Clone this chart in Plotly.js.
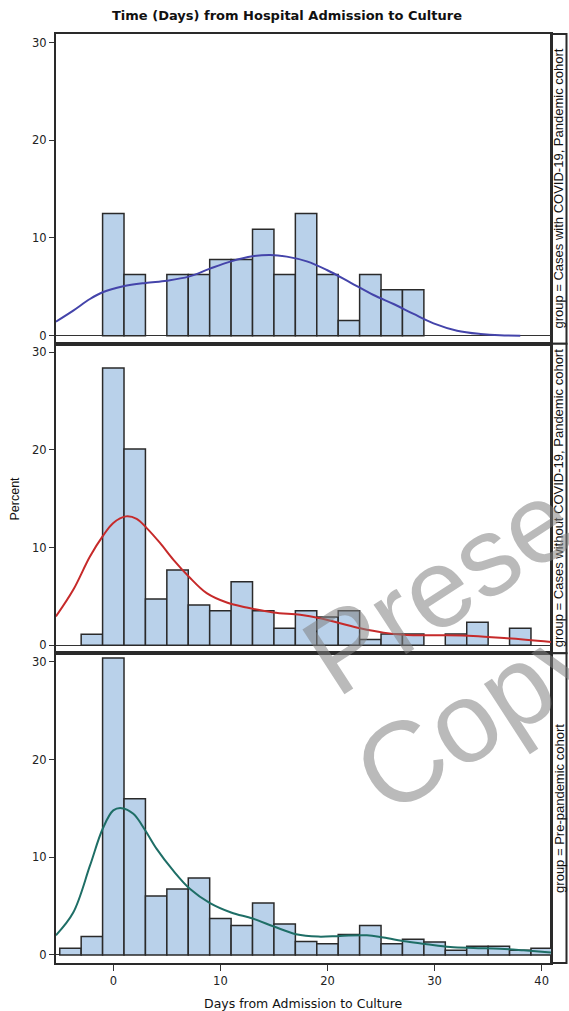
<!DOCTYPE html>
<html>
<head>
<meta charset="utf-8">
<script src="https://cdn.plot.ly/plotly-3.0.1.min.js"></script>
<style>html,body{margin:0;padding:0;background:#fff;}#chart{width:569px;height:1011px;}</style>
</head>
<body>
<div id="chart"></div>
<script>
// Bin centres (days), bin width 2 days
const binDays = [-4,-2,0,2,4,6,8,10,12,14,16,18,20,22,24,26,28,30,32,34,36,38,40];

// Percent per bin (null = empty bin)
const pctCovid    = [null,null,12.5,6.25,null,6.25,6.25,7.8,7.8,10.9,6.25,12.5,6.25,1.56,6.25,4.7,4.7,null,null,null,null,null,null];
const pctNonCovid = [null,1.13,28.4,20.1,4.73,7.7,4.14,3.55,6.5,3.55,1.76,3.55,2.9,3.55,0.6,1.15,1.15,null,1.15,2.35,null,1.76,null];
const pctPre      = [0.68,1.88,30.4,16.0,6.03,6.75,7.88,3.73,3.01,5.31,3.18,1.37,1.16,2.09,3.01,1.16,1.61,1.34,0.48,0.89,0.89,0.48,0.68];

// Kernel density curves
const kdeCovidX = [-5.36,-3.74,-2.18,-1.0,0.93,3.0,5.0,7.04,9.03,11.0,13.0,14.64,16.2,18.07,19.94,22.1,24.3,26.17,28.04,29.9,32.1,34.3,36.1,38.0];
const kdeCovidY = [1.43,2.56,3.75,4.44,5.05,5.4,5.63,6.04,6.86,7.6,8.12,8.26,8.09,7.6,6.72,5.46,4.16,3.24,2.22,1.26,0.51,0.17,0.03,0.0];

const kdeNonX = [-5.36,-3.74,-2.18,-1.0,0.0,1.18,2.18,3.12,4.36,5.6,7.04,8.72,10.6,12.46,14.95,17.45,19.3,21.18,23.05,25.23,27.4,30.5,33.6,36.76,40.9];
const kdeNonY = [2.95,5.68,9.1,11.16,12.53,13.2,12.95,12.0,10.48,8.77,7.05,5.34,4.38,3.87,3.36,3.12,2.77,2.26,1.75,1.3,1.06,1.03,0.96,0.72,0.34];

const kdePreX = [-5.36,-3.74,-2.18,-1.0,0.0,0.78,1.87,2.99,4.05,5.6,7.17,9.03,11.0,13.0,15.0,17.07,19.13,21.18,23.68,25.23,27.4,29.28,31.46,33.64,36.1,38.3,40.9];
const kdePreY = [2.02,4.35,9.14,12.9,14.8,15.03,14.45,12.74,10.86,8.63,6.75,5.31,4.35,3.73,2.91,2.12,1.88,1.95,2.02,1.78,1.37,1.1,0.82,0.72,0.65,0.48,0.24];

const groupLabels = [
  "group = Cases with COVID-19, Pandemic cohort",
  "group = Cases without COVID-19, Pandemic cohort",
  "group = Pre-pandemic cohort"
];
const xTicks = [0,10,20,30,40];
const yTicks = [0,10,20,30];

const barFill = "#B9D1EA";
const barLine = "#2a2a2a";
const curveColors = ["#4444AA","#C62A2A","#1E6E66"];
const FONT = "Liberation Sans, Arial, sans-serif";
const WIDE = "DejaVu Sans, sans-serif";

function bars(y, xa, ya){
  return {type:"bar", x:binDays, y:y, width:2, xaxis:xa, yaxis:ya,
    marker:{color:barFill, line:{color:barLine, width:1.5}}, hoverinfo:"x+y", showlegend:false};
}
function curve(x, y, c, xa, ya){
  return {type:"scatter", mode:"lines", x:x, y:y, xaxis:xa, yaxis:ya,
    line:{color:c, width:2, shape:"spline", smoothing:1}, showlegend:false};
}

const data = [
  bars(pctCovid,"x3","y"), curve(kdeCovidX,kdeCovidY,curveColors[0],"x3","y"),
  bars(pctNonCovid,"x2","y2"), curve(kdeNonX,kdeNonY,curveColors[1],"x2","y2"),
  bars(pctPre,"x","y3"), curve(kdePreX,kdePreY,curveColors[2],"x","y3")
];

const xr = [-5.35, 40.87];
const yr = [-0.82, 30.88];
const axLine = {showline:true, linecolor:"#2a2a2a", linewidth:2, mirror:true, showgrid:false};
function yax(dom, anchor){
  return Object.assign({domain:dom, anchor:anchor, range:yr, tickvals:yTicks, ticks:"outside",
    ticklen:5, tickwidth:1, tickcolor:"#333", zeroline:true, zerolinecolor:"#333", zerolinewidth:1,
    tickfont:{family:WIDE, size:11.5, color:"#222"}, fixedrange:true}, axLine);
}
function xax(anchor, labels){
  return Object.assign({anchor:anchor, range:xr, tickvals:xTicks, ticks:labels?"outside":"",
    ticklen:6, tickwidth:1, tickcolor:"#333", showticklabels:labels, zeroline:false,
    tickfont:{family:WIDE, size:11.5, color:"#222"}, fixedrange:true}, axLine);
}

const doms = [[2/3,1],[1/3,2/3],[0,1/3]];
const shapes = [];
const annotations = [];
const stripX1 = 1.0313;
doms.forEach((d,i)=>{
  shapes.push({type:"rect", xref:"paper", yref:"paper", x0:1, x1:stripX1, y0:d[0], y1:d[1],
    line:{color:"#2a2a2a", width:2}, fillcolor:"#fff", layer:"below"});
  annotations.push({xref:"paper", yref:"paper", x:(1+stripX1)/2, y:(d[0]+d[1])/2, text:groupLabels[i],
    textangle:-90, showarrow:false, xanchor:"center", yanchor:"middle",
    font:{family:FONT, size:13, color:"#111"}});
});
annotations.push({xref:"paper", yref:"paper", x:-0.0848, y:0.5, text:"Percent", textangle:-90,
  showarrow:false, xanchor:"center", yanchor:"middle", font:{family:FONT, size:12.5, color:"#111"}});
annotations.push({xref:"paper", yref:"paper", x:0.5, y:-0.0441, text:"Days from Admission to Culture",
  showarrow:false, xanchor:"center", yanchor:"middle", font:{family:WIDE, size:12.5, color:"#111"}});
// watermark
const wmColor = "rgba(130,130,130,0.55)";
annotations.push({xref:"paper", yref:"paper", x:(438-56)/495, y:(963-587)/929, text:"Prese", textangle:-33,
  showarrow:false, xanchor:"center", yanchor:"middle", font:{family:FONT, size:112, color:wmColor}});
annotations.push({xref:"paper", yref:"paper", x:(478-56)/495, y:(963-712)/929, text:"Copy", textangle:-33,
  showarrow:false, xanchor:"center", yanchor:"middle", font:{family:FONT, size:114, color:wmColor}});

const layout = {
  width:569, height:1011,
  margin:{l:56, r:18, t:34, b:48, pad:0},
  paper_bgcolor:"#fff", plot_bgcolor:"#fff",
  bargap:0, barmode:"overlay",
  title:{text:"<b>Time (Days) from Hospital Admission to Culture</b>", x:287/569, xref:"container",
    xanchor:"center", y:1-15/1011, yanchor:"middle", font:{family:WIDE, size:13, color:"#111"}},
  xaxis: xax("y3", true),
  xaxis2: Object.assign(xax("y2", false), {matches:"x"}),
  xaxis3: Object.assign(xax("y", false), {matches:"x"}),
  yaxis: yax(doms[0], "x3"),
  yaxis2: yax(doms[1], "x2"),
  yaxis3: yax(doms[2], "x"),
  shapes:shapes, annotations:annotations,
  font:{family:FONT}
};

Plotly.newPlot("chart", data, layout, {displayModeBar:false, staticPlot:true});
</script>
</body>
</html>
